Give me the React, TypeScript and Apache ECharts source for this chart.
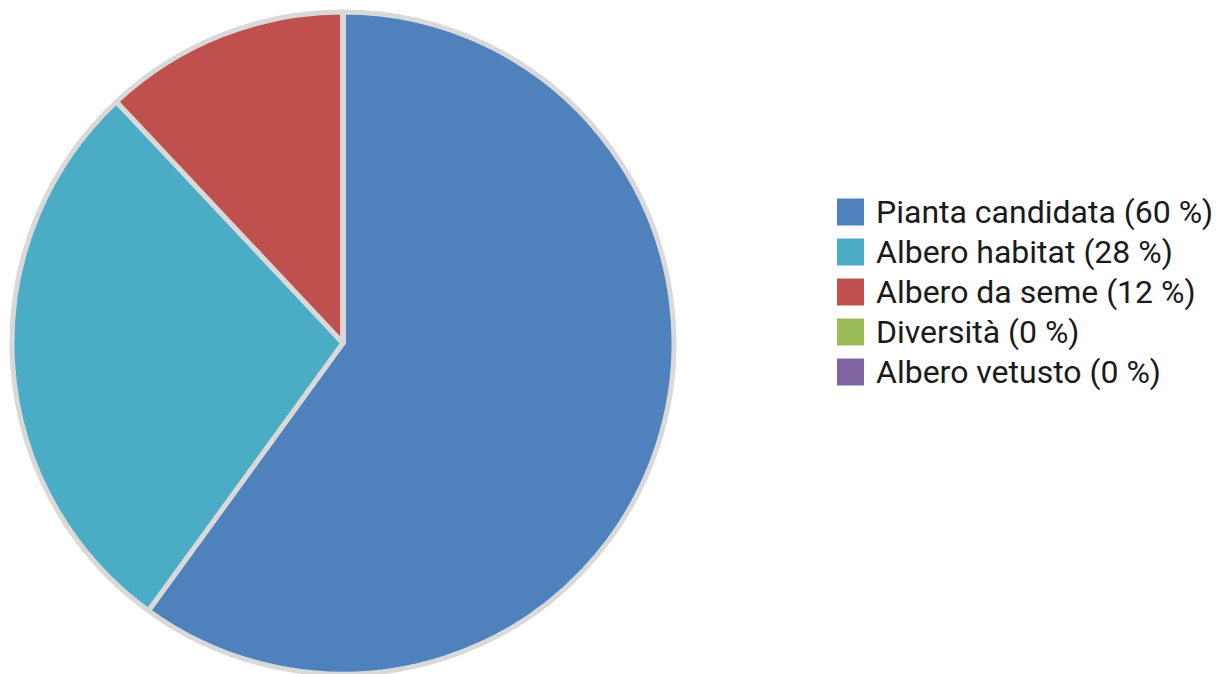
import React, { useEffect, useRef } from "react";
import * as echarts from "echarts";

const categories = ["Pianta candidata", "Albero habitat", "Albero da seme", "Diversità", "Albero vetusto"];
const values = [15, 7, 3, 0, 0];
const colors = ["#4F81BD", "#4BACC6", "#C0504D", "#9BBB59", "#8064A2"];

export default function App() {
  const ref = useRef<HTMLDivElement>(null);
  useEffect(() => {
    if (!ref.current) return;
    const chart = echarts.init(ref.current, null, { renderer: "svg" });
    const total = values.reduce((a, b) => a + b, 0);
    const pct: Record<string, number> = {};
    categories.forEach((c, i) => (pct[c] = Math.round((values[i] / total) * 100)));
    chart.setOption({
      animation: false,
      color: colors,
      legend: {
        orient: "vertical",
        left: 837,
        top: 196,
        padding: 0,
        itemWidth: 27,
        itemHeight: 27,
        itemGap: 8,
        icon: "rect",
        selectedMode: false,
        itemStyle: { borderWidth: 0 },
        formatter: (name: string) => `${name} (${pct[name]} %)`,
        textStyle: {
          fontFamily: "Roboto",
          fontSize: 32,
          color: "#1a1a1a",
          padding: [0, 0, 0, 7],
        },
        data: categories,
      },
      series: [
        {
          type: "pie",
          center: [343, 343],
          radius: 331,
          startAngle: 90,
          clockwise: true,
          label: { show: false },
          labelLine: { show: false },
          emphasis: { disabled: true },
          itemStyle: { borderColor: "#d9d9d9", borderWidth: 5 },
          data: categories.map((c, i) => ({ name: c, value: values[i] })),
        },
      ],
    });
    return () => chart.dispose();
  }, []);
  return <div ref={ref} style={{ position: "absolute", left: 0, top: 0, width: 1216, height: 674 }} />;
}
